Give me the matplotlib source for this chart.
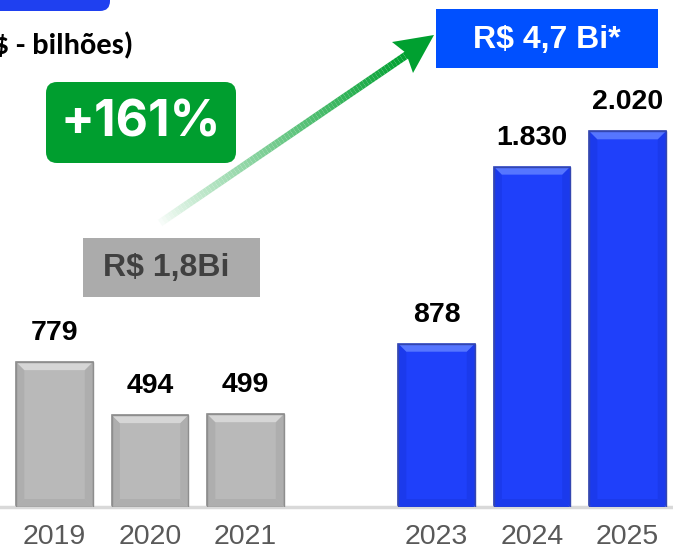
import numpy as np
import matplotlib
matplotlib.use("Agg")
import matplotlib.pyplot as plt
from matplotlib.collections import LineCollection
from matplotlib.patches import FancyBboxPatch, Polygon, Rectangle

# data
years_old = ["2019", "2020", "2021"]
values_old = [779, 494, 499]
years_new = ["2023", "2024", "2025"]
values_new = [878, 1830, 2020]
labels_old = ["779", "494", "499"]
labels_new = ["878", "1.830", "2.020"]
pos_old = [0, 1, 2]
pos_new = [4, 5, 6]

W, H = 673, 554
fig = plt.figure(figsize=(W / 100, H / 100), dpi=100)
fig.patch.set_facecolor("white")

# main bar axes
base_px = 47
ax = fig.add_axes([0, base_px / H, 1, (H - base_px) / H])
ax.set_xlim(-0.571, 6.476)
ax.set_ylim(0, 2726)
ppx = 1 / 95.5          # data units per pixel (x)
ppy = 2726 / (H - base_px)  # data units per pixel (y)


def bevel_bar(x, h, main, top, side, edge):
    w = 0.8
    x0, x1 = x - w / 2, x + w / 2
    bx, by = 8 * ppx, 8 * ppy
    ax.bar(x, h, width=w, color=main, edgecolor=edge, linewidth=1.2, zorder=2)
    # side and bottom bevels
    ax.add_patch(Polygon([[x0, h], [x0 + bx, h - by], [x0 + bx, by], [x0, 0]],
                         closed=True, facecolor=side, edgecolor="none", zorder=3))
    ax.add_patch(Polygon([[x1, h], [x1 - bx, h - by], [x1 - bx, by], [x1, 0]],
                         closed=True, facecolor=side, edgecolor="none", zorder=3))
    ax.add_patch(Polygon([[x0, 0], [x1, 0], [x1 - bx, by], [x0 + bx, by]],
                         closed=True, facecolor=side, edgecolor="none", zorder=3))
    # top bevel
    ax.add_patch(Polygon([[x0, h], [x1, h], [x1 - bx, h - by], [x0 + bx, h - by]],
                         closed=True, facecolor=top, edgecolor="none", zorder=3))
    ax.add_patch(Rectangle((x0, 0), w, h, facecolor="none", edgecolor=edge,
                           linewidth=1.0, zorder=4))


for x, v in zip(pos_old, values_old):
    bevel_bar(x, v, "#B9B9B9", "#D6D6D6", "#AEAEAE", "#8E8E8E")
for x, v in zip(pos_new, values_new):
    bevel_bar(x, v, "#1F40FA", "#5676FF", "#1B3AEC", "#3346B0")

for x, v, t in zip(pos_old + pos_new, values_old + values_new, labels_old + labels_new):
    ax.text(x, v + 29 * ppy, t, ha="center", va="center", fontsize=20.5,
            fontweight="bold", family="Liberation Sans", color="black", zorder=5)

ax.set_xticks(pos_old + pos_new)
ax.set_xticklabels(years_old + years_new, fontsize=20.5, color="#595959",
                   family="Liberation Sans")
ax.tick_params(axis="x", length=0, pad=12)
ax.set_yticks([])
for s in ["top", "left", "right"]:
    ax.spines[s].set_visible(False)
ax.spines["bottom"].set_color("#D9D9D9")
ax.spines["bottom"].set_linewidth(2.5)
ax.set_facecolor("none")

# overlay in pixel coordinates for the annotations
ov = fig.add_axes([0, 0, 1, 1])
ov.set_xlim(0, W)
ov.set_ylim(H, 0)
ov.axis("off")
ov.set_facecolor("none")

# cut-off header box at the top left
ov.add_patch(FancyBboxPatch((-40, -40), 150, 51, boxstyle="round,pad=0,rounding_size=10",
                            facecolor="#1F40F0", edgecolor="none"))
ov.text(133, 46, "(R$ - bilhões)", ha="right", va="center", fontsize=22,
        fontweight="bold", family=["Carlito", "Lato"], color="black")

# +161% badge
ov.add_patch(FancyBboxPatch((46, 82), 190, 81, boxstyle="round,pad=0,rounding_size=11",
                            facecolor="#009E2F", edgecolor="none"))
ov.text(141, 123, "+161%", ha="center", va="center", fontsize=36,
        fontweight="bold", family="Inter", color="white")

# R$ 1,8Bi box
ov.add_patch(Rectangle((83, 238), 177, 59, facecolor="#ABABAB", edgecolor="none"))
ov.text(166, 268, "R$ 1,8Bi", ha="center", va="center", fontsize=23,
        fontweight="bold", family="Liberation Sans", color="#404040")

# R$ 4,7 Bi* box
ov.add_patch(Rectangle((436, 9), 222, 59, facecolor="#0050FF", edgecolor="none"))
ov.text(547, 40, "R$ 4,7 Bi*", ha="center", va="center", fontsize=23,
        fontweight="bold", family="Liberation Sans", color="white")

# gradient arrow
start = np.array([157.0, 225.0])
end = np.array([408.0, 54.0])
n = 80
pts = start + (end - start) * np.linspace(0, 1, n + 1)[:, None]
segs = np.stack([pts[:-1], pts[1:]], axis=1)
t = np.linspace(0, 1, n) ** 0.8
green = np.array(matplotlib.colors.to_rgb("#00A030"))
cols = [tuple(1 - (1 - green) * a) for a in t]
ov.add_collection(LineCollection(segs, colors=cols, linewidths=5.5, capstyle="butt"))
ov.add_patch(Polygon([[434, 35], [392, 42], [406, 53], [413, 73]], closed=True,
                     facecolor="#00A030", edgecolor="none"))

fig.savefig("out.png", dpi=100)
